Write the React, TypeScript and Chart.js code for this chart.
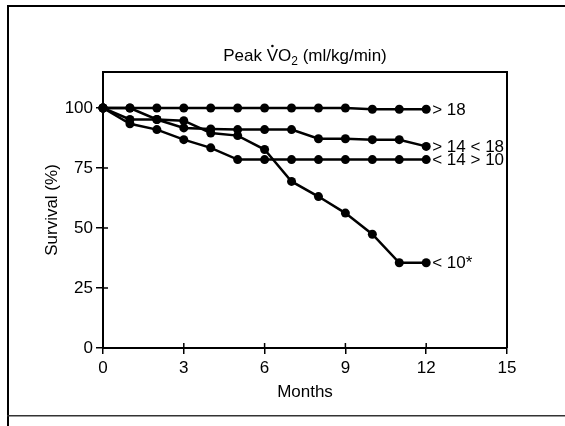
import React, { useEffect, useRef } from "react";
import { Chart, registerables } from "chart.js";

Chart.register(...registerables);

// ---- data ----
const months = [0, 1, 2, 3, 4, 5, 6, 7, 8, 9, 10, 11, 12];
const seriesNames = ["> 18", "> 14 < 18", "< 14 > 10", "< 10*"];
const over18 = [100, 100, 100, 100, 100, 100, 100, 100, 100, 100, 99.5, 99.5, 99.5];
const from14to18 = [100, 100, 95.2, 91.7, 91.3, 91.0, 91.0, 91.0, 87.2, 87.2, 86.8, 86.8, 84.0];
const from10to14 = [100, 93.4, 91.0, 86.8, 83.4, 78.5, 78.5, 78.5, 78.5, 78.5, 78.5, 78.5, 78.5];
const under10 = [100, 95.2, 95.2, 94.7, 89.6, 88.5, 82.7, 69.4, 63.1, 56.2, 47.4, 35.5, 35.5];
const xTickValues = [0, 3, 6, 9, 12, 15];
const yTickValues = [0, 25, 50, 75, 100];
const titlePeak = "Peak ";
const titleV = "V";
const titleO = "O";
const titleSub = "2";
const titleRest = " (ml/kg/min)";
const yTitle = "Survival (%)";
const xTitle = "Months";

const FONT = "'Liberation Sans', Arial, Helvetica, sans-serif";
const FS = 17;

const decorPlugin = {
  id: "decor",
  beforeDraw(chart: any) {
    const ctx = chart.ctx;
    ctx.save();
    ctx.fillStyle = "#fff";
    ctx.fillRect(0, 0, chart.width, chart.height);
    // outer frame
    ctx.fillStyle = "#000";
    ctx.fillRect(7, 5, 2, chart.height - 5);
    ctx.fillRect(7, 5, chart.width - 7, 2);
    ctx.fillStyle = "#333";
    ctx.fillRect(7, 415, chart.width - 7, 1.5);
    ctx.restore();
  },
  afterDraw(chart: any) {
    const ctx = chart.ctx;
    const a = chart.chartArea;
    const xs = chart.scales.x;
    const ys = chart.scales.y;
    ctx.save();
    ctx.strokeStyle = "#000";
    // box top and right
    ctx.lineWidth = 2;
    ctx.beginPath();
    ctx.moveTo(a.left - 1, a.top);
    ctx.lineTo(a.right, a.top);
    ctx.lineTo(a.right, a.bottom);
    ctx.stroke();
    // inner tick portions
    ctx.lineWidth = 1.5;
    ctx.beginPath();
    xTickValues.forEach((v) => {
      if (v === 0 || v === 15) return;
      const px = xs.getPixelForValue(v);
      ctx.moveTo(px, a.bottom);
      ctx.lineTo(px, a.bottom - 5);
    });
    yTickValues.forEach((v) => {
      if (v === 0) return;
      const py = ys.getPixelForValue(v);
      ctx.moveTo(a.left, py);
      ctx.lineTo(a.left + 5, py);
    });
    ctx.stroke();

    ctx.fillStyle = "#000";
    // title: Peak V(dot)O2 (ml/kg/min)
    const cx = (a.left + a.right) / 2;
    const big = `${FS}px ${FONT}`;
    const small = `12px ${FONT}`;
    ctx.font = big;
    const wPeak = ctx.measureText(titlePeak).width;
    const wV = ctx.measureText(titleV).width;
    const wO = ctx.measureText(titleO).width;
    const wRest = ctx.measureText(titleRest).width;
    ctx.font = small;
    const wSub = ctx.measureText(titleSub).width;
    const total = wPeak + wV + wO + wSub + wRest;
    let x = cx - total / 2;
    const by = 61;
    ctx.textAlign = "left";
    ctx.textBaseline = "alphabetic";
    ctx.font = big;
    ctx.fillText(titlePeak, x, by);
    x += wPeak;
    ctx.fillText(titleV, x, by);
    ctx.beginPath();
    ctx.arc(x + wV / 2, by - 15, 1.3, 0, Math.PI * 2);
    ctx.fill();
    x += wV;
    ctx.fillText(titleO, x, by);
    x += wO;
    ctx.font = small;
    ctx.fillText(titleSub, x, by + 4);
    x += wSub;
    ctx.font = big;
    ctx.fillText(titleRest, x, by);

    // x title
    ctx.textAlign = "center";
    ctx.textBaseline = "middle";
    ctx.fillText(xTitle, cx, 392);

    // y title
    ctx.save();
    ctx.translate(52, (a.top + a.bottom) / 2);
    ctx.rotate(-Math.PI / 2);
    ctx.fillText(yTitle, 0, 0);
    ctx.restore();

    // series labels
    ctx.textAlign = "left";
    ctx.textBaseline = "middle";
    chart.data.datasets.forEach((ds: any, i: number) => {
      const meta = chart.getDatasetMeta(i);
      const last = meta.data[meta.data.length - 1];
      ctx.fillText(seriesNames[i], last.x + 6, last.y + 1);
    });
    ctx.restore();
  },
};

export default function App() {
  const ref = useRef<HTMLCanvasElement | null>(null);
  useEffect(() => {
    if (!ref.current) return;
    Chart.defaults.font.family = FONT;
    const series = [over18, from14to18, from10to14, under10];
    const chart = new Chart(ref.current, {
      type: "line",
      data: {
        datasets: series.map((vals, i) => ({
          label: seriesNames[i],
          data: vals.map((v, j) => ({ x: months[j], y: v })),
          borderColor: "#000",
          borderWidth: 2.5,
          pointRadius: 4.5,
          pointBackgroundColor: "#000",
          pointBorderWidth: 0,
          tension: 0,
          clip: false as any,
        })) as any,
      },
      options: {
        animation: false,
        responsive: false,
        devicePixelRatio: 1,
        layout: { padding: { left: 0, top: 72, right: 58, bottom: 0 } },
        plugins: { legend: { display: false }, tooltip: { enabled: false } },
        scales: {
          x: {
            type: "linear",
            min: 0,
            max: 15,
            afterBuildTicks: (s: any) => {
              s.ticks = xTickValues.map((v) => ({ value: v }));
            },
            afterFit: (s: any) => {
              s.height = 78;
            },
            ticks: { color: "#000", font: { size: FS }, padding: 4, maxRotation: 0 },
            grid: { drawOnChartArea: false, tickLength: 6, color: "#000", lineWidth: 1.5 },
            border: { color: "#000", width: 2 },
          },
          y: {
            type: "linear",
            min: 0,
            max: 115,
            afterBuildTicks: (s: any) => {
              s.ticks = yTickValues.map((v) => ({ value: v }));
            },
            afterFit: (s: any) => {
              s.width = 103;
            },
            ticks: { color: "#000", font: { size: FS }, padding: 3 },
            grid: { drawOnChartArea: false, tickLength: 7, color: "#000", lineWidth: 1.5 },
            border: { color: "#000", width: 2 },
          },
        },
      },
      plugins: [decorPlugin],
    });
    return () => chart.destroy();
  }, []);
  return (
    <div style={{ position: "fixed", left: 0, top: 0, width: 565, height: 426, background: "#fff" }}>
      <canvas ref={ref} width={565} height={426} style={{ display: "block", width: 565, height: 426 }} />
    </div>
  );
}
